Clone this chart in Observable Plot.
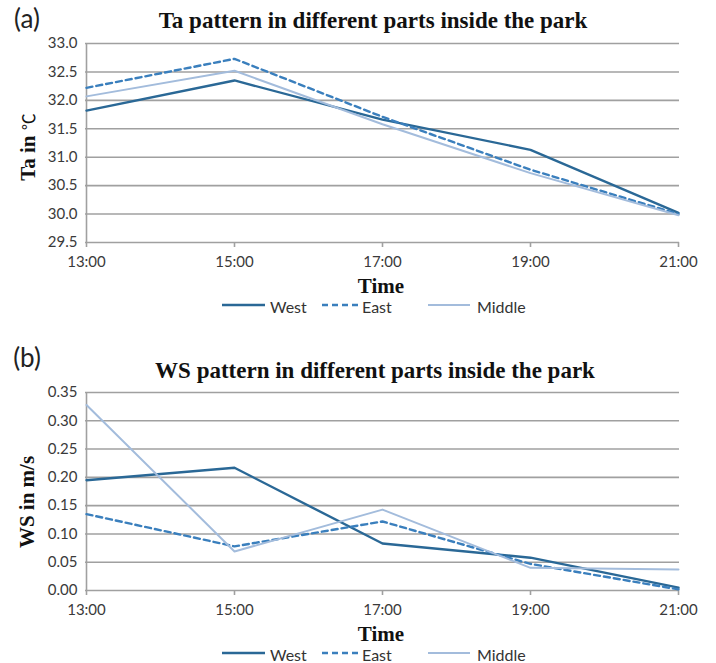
<!DOCTYPE html>
<html>
<head>
<meta charset="utf-8">
<script src="https://cdn.jsdelivr.net/npm/d3@7"></script>
<script src="https://cdn.jsdelivr.net/npm/@observablehq/plot@0.6"></script>
<style>
  html, body { margin: 0; padding: 0; background: #fff; }
  #root { position: relative; width: 716px; height: 663px; overflow: hidden; }
  .svgwrap { position: absolute; left: 0; }
  .lbl { position: absolute; white-space: nowrap; transform: translate(-50%, -50%); color: #111; }
  .panel { font-family: Lato, "Open Sans", sans-serif; font-size: 26px; color: #222; }
  .title { font-family: "Liberation Serif", "DejaVu Serif", serif; font-weight: bold; font-size: 23px; }
  .axlabel { font-family: "Liberation Serif", "DejaVu Serif", serif; font-weight: bold; font-size: 21px; }
  .ylab { transform: translate(-50%, -50%) rotate(-90deg); }
  .deg { font-family: "Noto Sans CJK SC", sans-serif; font-weight: normal; font-size: 17px; }
  .leg { position: absolute; font-family: Lato, "Open Sans", sans-serif; font-size: 16px; color: #333; white-space: nowrap; transform: translateY(-50%); }
  .legsw { position: absolute; transform: translateY(-50%); }
</style>
</head>
<body>
<div id="root"></div>
<script>
// ---- data ----
const times = ["13:00", "15:00", "17:00", "19:00", "21:00"];
const seriesNames = ["West", "East", "Middle"];

const taWest   = [31.82, 32.35, 31.66, 31.13, 30.02];
const taEast   = [32.22, 32.73, 31.71, 30.78, 30.00];
const taMiddle = [32.07, 32.52, 31.58, 30.72, 29.98];
const taTicks  = [29.5, 30.0, 30.5, 31.0, 31.5, 32.0, 32.5, 33.0];

const wsWest   = [0.195, 0.217, 0.083, 0.058, 0.005];
const wsEast   = [0.135, 0.078, 0.122, 0.047, 0.002];
const wsMiddle = [0.328, 0.069, 0.143, 0.040, 0.037];
const wsTicks  = [0.00, 0.05, 0.10, 0.15, 0.20, 0.25, 0.30, 0.35];

const titleA = "Ta pattern in different parts inside the park";
const titleB = "WS pattern in different parts inside the park";
const xLabel = "Time";

// ---- styles ----
const colors = {West: "#2a6896", East: "#3a7fbd", Middle: "#a3bcdc"};
const dashes = {West: null, East: "6,4", Middle: null};
const widths = {West: 2.4, East: 2.4, Middle: 2};
const gridColor = "#a0a0a0";

function rows(vals) { return times.map((t, i) => ({time: t, value: vals[i]})); }

function panel(seriesVals, ticks, fmt, height, mt, mb) {
  const marks = [
    Plot.ruleY(ticks, {stroke: gridColor, strokeWidth: 1.6}),
    Plot.ruleX([times[0]], {stroke: gridColor, strokeWidth: 1.6}),
    Plot.axisY({ticks, tickFormat: fmt, tickSize: 0, tickPadding: 8, label: null, fill: "#3a3a3a"}),
    Plot.axisX({ticks: times, tickSize: 5, tickFormat: () => "", stroke: gridColor, strokeWidth: 1.6, label: null}),
    Plot.axisX({ticks: times, tickSize: 0, tickPadding: 14, label: null, fill: "#3a3a3a"})
  ];
  seriesNames.forEach((name, k) => {
    marks.push(Plot.line(rows(seriesVals[k]), {
      x: "time", y: "value",
      stroke: colors[name], strokeWidth: widths[name],
      strokeDasharray: dashes[name] || undefined
    }));
  });
  return Plot.plot({
    width: 716, height,
    marginLeft: 85, marginRight: 37, marginTop: mt, marginBottom: mb,
    x: {type: "point", domain: times, padding: 0},
    y: {domain: [ticks[0], ticks[ticks.length - 1]]},
    style: {fontFamily: "Lato, 'Open Sans', sans-serif", fontSize: "15px", background: "transparent", color: "#3a3a3a"},
    marks
  });
}

const root = document.getElementById("root");

function addSvg(svg, top) {
  const w = document.createElement("div");
  w.className = "svgwrap";
  w.style.top = top + "px";
  w.appendChild(svg);
  root.appendChild(w);
}
function addLabel(text, cls, x, y, html) {
  const d = document.createElement("div");
  d.className = "lbl " + cls;
  d.style.left = x + "px";
  d.style.top = y + "px";
  if (html) d.innerHTML = html; else d.textContent = text;
  root.appendChild(d);
  return d;
}
// legend: swatch start x, swatch length, text start x
const legendLayout = {West: [222, 43, 270], East: [322, 38, 362], Middle: [428, 42, 477]};
function addLegend(y) {
  const ns = "http://www.w3.org/2000/svg";
  seriesNames.forEach(name => {
    const [sx, sl, tx] = legendLayout[name];
    const s = document.createElementNS(ns, "svg");
    s.setAttribute("class", "legsw");
    s.setAttribute("width", sl); s.setAttribute("height", 8);
    s.style.left = sx + "px"; s.style.top = y + "px";
    const l = document.createElementNS(ns, "line");
    l.setAttribute("x1", 0); l.setAttribute("x2", sl); l.setAttribute("y1", 4); l.setAttribute("y2", 4);
    l.setAttribute("stroke", colors[name]); l.setAttribute("stroke-width", widths[name]);
    if (dashes[name]) l.setAttribute("stroke-dasharray", dashes[name]);
    s.appendChild(l);
    root.appendChild(s);
    const t = document.createElement("div");
    t.className = "leg";
    t.style.left = tx + "px"; t.style.top = (y + 1) + "px";
    t.textContent = name;
    root.appendChild(t);
  });
}

// Panel (a)
addSvg(panel([taWest, taEast, taMiddle], taTicks, d3.format(".1f"), 320, 43, 78), 0);
addLabel("(a)", "panel", 27, 18);
addLabel(titleA, "title", 373, 21);
addLabel(null, "axlabel ylab", 28, 147, 'Ta in <span class="deg">℃</span>');
addLabel(xLabel, "axlabel", 381, 286);
addLegend(305);

// Panel (b)
addSvg(panel([wsWest, wsEast, wsMiddle], wsTicks, d3.format(".2f"), 333, 62, 73), 330);
addLabel("(b)", "panel", 27, 357);
addLabel(titleB, "title", 375, 371);
addLabel("WS in m/s", "axlabel ylab", 27, 502);
addLabel(xLabel, "axlabel", 381, 634);
addLegend(653);
</script>
</body>
</html>
